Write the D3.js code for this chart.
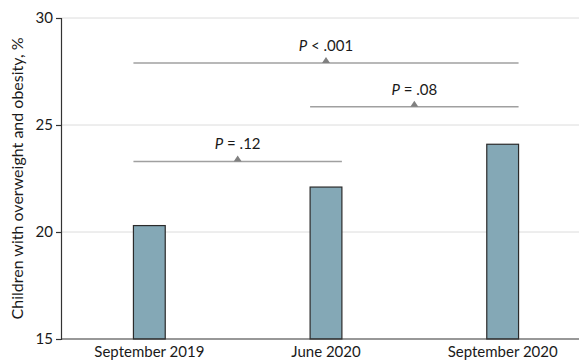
<!DOCTYPE html>
<html>
<head>
<meta charset="utf-8">
<script src="https://cdn.jsdelivr.net/npm/d3@7"></script>
<style>
  html, body { margin: 0; padding: 0; background: #fff; }
  svg { display: block; }
  text { font-family: Lato, "Open Sans", sans-serif; fill: #1a1a1a; }
</style>
</head>
<body>
<svg id="chart" width="583" height="360"></svg>
<script>
// Share of children with overweight and obesity at each time point
const categories = ["September 2019", "June 2020", "September 2020"];
const values = [20.3, 22.1, 24.1];
const yTicks = [15, 20, 25, 30];

// Pairwise comparisons: from category, to category, bracket level, label
const compFrom = ["September 2019", "June 2020", "September 2019"];
const compTo = ["June 2020", "September 2020", "September 2020"];
const compLevel = [23.3, 25.85, 27.9];
const compOp = ["=", "=", "<"];
const compP = [".12", ".08", ".001"];

const svg = d3.select("#chart");
const mLeft = 61, mRight = 591, mTop = 18, mBottom = 339;

const x = d3.scaleBand()
  .domain(categories)
  .range([mLeft, mRight])
  .paddingInner(0.82)
  .paddingOuter(0.41);

const y = d3.scaleLinear().domain([15, 30]).range([mBottom, mTop]);

// Horizontal gridlines
svg.append("g")
  .selectAll("line")
  .data(yTicks.filter(d => d > 15))
  .join("line")
  .attr("x1", mLeft).attr("x2", 579)
  .attr("y1", d => y(d)).attr("y2", d => y(d))
  .attr("stroke", "#dcdcdc").attr("stroke-width", 1);

// Bars
svg.append("g")
  .selectAll("rect")
  .data(values)
  .join("rect")
  .attr("x", (d, i) => x(categories[i]))
  .attr("y", d => y(d))
  .attr("width", x.bandwidth())
  .attr("height", d => y(15) - y(d))
  .attr("fill", "#84a8b6")
  .attr("stroke", "#2b2b2b")
  .attr("stroke-width", 1.2);

// Comparison brackets
const comps = compFrom.map((f, i) => ({
  x1: x(f), x2: x(compTo[i]) + x.bandwidth(), level: compLevel[i], op: compOp[i], p: compP[i]
}));
const cg = svg.append("g").selectAll("g").data(comps).join("g");
cg.append("line")
  .attr("x1", d => d.x1).attr("x2", d => d.x2)
  .attr("y1", d => y(d.level)).attr("y2", d => y(d.level))
  .attr("stroke", "#a0a0a0").attr("stroke-width", 1.5);
cg.append("path")
  .attr("d", d => {
    const cx = (d.x1 + d.x2) / 2, cy = y(d.level);
    return `M${cx - 4},${cy} L${cx + 4},${cy} L${cx},${cy - 6} Z`;
  })
  .attr("fill", "#808080");
const lbl = cg.append("text")
  .attr("x", d => (d.x1 + d.x2) / 2)
  .attr("y", d => y(d.level) - 12)
  .attr("text-anchor", "middle")
  .attr("font-size", 15);
lbl.append("tspan").attr("font-style", "italic").text("P");
lbl.append("tspan").text(d => ` ${d.op} ${d.p}`);

// Y axis
const yAxis = svg.append("g")
  .attr("transform", `translate(${mLeft},0)`)
  .call(d3.axisLeft(y).tickValues(yTicks).tickSize(5).tickPadding(3));
yAxis.select(".domain").attr("stroke", "#333").attr("stroke-width", 1.2);
yAxis.selectAll(".tick line").attr("stroke", "#333").attr("stroke-width", 1.2);
yAxis.selectAll(".tick text").attr("font-size", 15).attr("font-family", "Lato, sans-serif").attr("fill", "#1a1a1a");

// X axis
const xAxis = svg.append("g")
  .attr("transform", `translate(0,${mBottom})`)
  .call(d3.axisBottom(x).tickSize(0).tickPadding(7));
xAxis.select(".domain").attr("d", `M${mLeft},0H579`).attr("stroke", "#333").attr("stroke-width", 1.2);
xAxis.selectAll(".tick text").attr("font-size", 15).attr("font-family", "Lato, sans-serif").attr("fill", "#1a1a1a");

// Y axis title
svg.append("text")
  .attr("transform", `translate(23,${(mTop + mBottom) / 2}) rotate(-90)`)
  .attr("text-anchor", "middle")
  .attr("font-size", 16)
  .text("Children with overweight and obesity, %");
</script>
</body>
</html>
